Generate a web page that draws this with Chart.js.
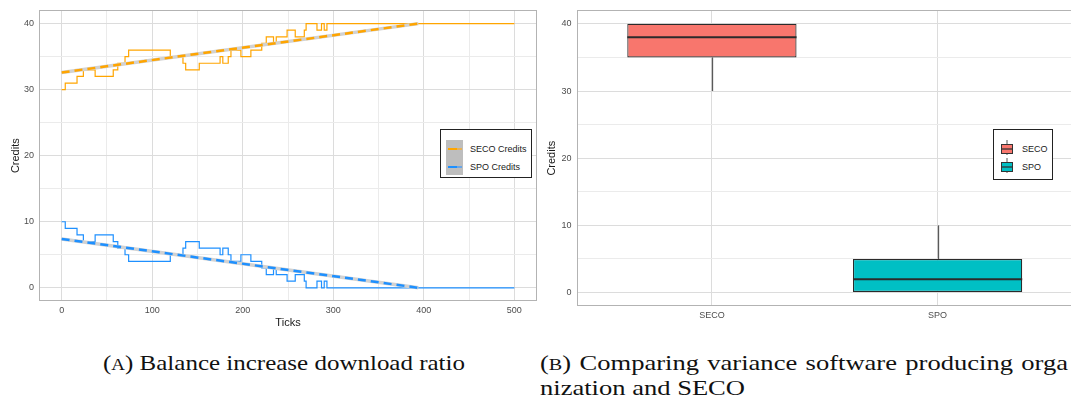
<!DOCTYPE html>
<html>
<head>
<meta charset="utf-8">
<script src="https://cdn.jsdelivr.net/npm/chart.js@4.4.1/dist/chart.umd.min.js"></script>
<style>
  html, body { margin: 0; padding: 0; background: #fff; overflow: hidden; width: 1071px; height: 403px; }
  #left { position: absolute; left: 0; top: 0; }
  #right { position: absolute; left: 540px; top: 0; }
  .legend { position: absolute; border: 1px solid #222; background: #fff; box-sizing: border-box;
            font-family: "Liberation Sans", Arial, sans-serif; font-size: 9px; color: #1a1a1a; }
  .legend span { position: absolute; line-height: 10px; white-space: nowrap; }
  .caption { position: absolute; font-family: "Liberation Serif", "Times New Roman", serif; font-size: 22px;
             line-height: 25px; color: #111; white-space: nowrap; transform-origin: 0 0; }
  .sc { font-size: 76%; }
</style>
</head>
<body>
<canvas id="left" width="540" height="330"></canvas>
<canvas id="right" width="540" height="330"></canvas>

<div class="legend" style="left:440px;top:129px;width:92px;height:49px;">
  <div style="position:absolute;left:5px;top:10px;width:17px;height:35px;background:#bebebe;"></div>
  <div style="position:absolute;left:7px;top:18px;width:9px;height:2px;background:#FFA500;"></div>
  <div style="position:absolute;left:16px;top:18px;width:5px;height:2px;background:#e6b25a;"></div>
  <div style="position:absolute;left:7px;top:36px;width:9px;height:2px;background:#1E90FF;"></div>
  <div style="position:absolute;left:16px;top:36px;width:5px;height:2px;background:#6aa6e6;"></div>
  <span style="left:29px;top:14px;">SECO Credits</span>
  <span style="left:29px;top:32px;">SPO Credits</span>
</div>

<div class="legend" style="left:993px;top:129px;width:60px;height:51px;">
  <svg style="position:absolute;left:6px;top:9px;" width="14" height="36">
    <line x1="7" y1="1" x2="7" y2="16" stroke="#555" stroke-width="1"/>
    <rect x="1.5" y="5.5" width="11" height="9" fill="#F8766D" stroke="#333" stroke-width="1"/>
    <line x1="1.5" y1="10" x2="12.5" y2="10" stroke="#333" stroke-width="1.3"/>
    <line x1="7" y1="19" x2="7" y2="34" stroke="#555" stroke-width="1"/>
    <rect x="1.5" y="23.5" width="11" height="9" fill="#00BFC4" stroke="#333" stroke-width="1"/>
    <line x1="1.5" y1="28" x2="12.5" y2="28" stroke="#333" stroke-width="1.3"/>
  </svg>
  <span style="left:28px;top:14px;">SECO</span>
  <span style="left:28px;top:32px;">SPO</span>
</div>

<div class="caption" id="capA" style="left:103px;top:350px;">(<span class="sc">A</span>) Balance increase download ratio</div>
<div class="caption" id="capB1" style="left:540px;top:350px;">(<span class="sc">B</span>) Comparing variance software producing orga</div>
<div class="caption" id="capB2" style="left:540px;top:375px;">nization and SECO</div>

<script>
// simulation ticks at which the credit balance changes
const stepTicks   = [0, 4, 17, 24, 37, 57, 62, 70, 74, 120, 134, 137, 152, 175, 178, 184, 187, 198, 209, 221, 226, 234, 237, 249, 258, 268, 270, 282, 287, 290, 293, 500];
const secoCredits = [30, 31, 32, 33, 32, 33, 34, 35, 36, 35, 34, 33, 34, 35, 34, 35, 36, 35, 36, 37, 38, 37, 38, 39, 38, 39, 40, 39, 40, 39, 40, 40];
const spoCredits  = [10, 9, 8, 7, 8, 7, 6, 5, 4, 5, 6, 7, 6, 5, 6, 5, 4, 5, 4, 3, 2, 3, 2, 1, 2, 1, 0, 1, 0, 1, 0, 0];

// linear fits
const fitTicks = [0, 394];
const secoFit  = [32.6, 40];
const spoFit   = [7.4, 0];

// boxplot summary
const groups    = ['SECO', 'SPO'];
const boxMin    = [30, 0];
const boxQ1     = [35, 0];
const boxMedian = [38, 2];
const boxQ3     = [40, 5];
const boxMax    = [40, 10];

// axis ticks
const xMajor = [0, 100, 200, 300, 400, 500];
const xMinor = [50, 150, 250, 350, 450];
const yMajor = [0, 10, 20, 30, 40];
const yMinor = [5, 15, 25, 35];

const SECO_LINE = '#FFA500';
const SPO_LINE = '#1E90FF';
const SECO_FILL = '#F8766D';
const SPO_FILL = '#00BFC4';

Chart.defaults.font.family = '"Liberation Sans", Arial, sans-serif';
Chart.defaults.animation = false;

const toPoints = (xs, ys) => xs.map((x, i) => ({ x: x, y: ys[i] }));
const tickList = (a, b) => a.concat(b).sort((p, q) => p - q).map(v => ({ value: v }));
const gridColor = major => ctx => major.includes(ctx.tick.value) ? '#dcdcdc' : '#ebebeb';

const panelBorder = {
  id: 'panelBorder',
  afterDraw(chart) {
    const { ctx, chartArea: a } = chart;
    ctx.save();
    ctx.strokeStyle = '#b3b3b3';
    ctx.lineWidth = 1;
    ctx.strokeRect(Math.round(a.left) + 0.5, Math.round(a.top) + 0.5,
                   Math.round(a.right - a.left) - 1, Math.round(a.bottom - a.top) - 1);
    ctx.restore();
  }
};

const yScale = (width, titlePad) => ({
  type: 'linear',
  min: -2, max: 42,
  afterBuildTicks: s => { s.ticks = tickList(yMajor, yMinor); },
  afterFit: s => { s.width = width; },
  border: { display: false },
  grid: { color: gridColor(yMajor), drawTicks: false, lineWidth: 1 },
  ticks: { autoSkip: false, padding: 5, color: '#4d4d4d', font: { size: 9 },
           callback: v => yMajor.includes(v) ? String(v) : '' },
  title: { display: true, text: 'Credits', color: '#1a1a1a', font: { size: 11 },
           padding: { top: titlePad, bottom: 0 } }
});

new Chart(document.getElementById('left'), {
  type: 'line',
  data: {
    datasets: [
      { label: 'SECO Credits', data: toPoints(stepTicks, secoCredits), stepped: true,
        borderColor: SECO_LINE, borderWidth: 1.2, pointRadius: 0, order: 5 },
      { label: 'SPO Credits', data: toPoints(stepTicks, spoCredits), stepped: true,
        borderColor: SPO_LINE, borderWidth: 1.2, pointRadius: 0, order: 5 },
      { data: toPoints(fitTicks, secoFit), borderColor: '#d2d2d2', borderWidth: 3.5, pointRadius: 0, order: 3 },
      { data: toPoints(fitTicks, spoFit), borderColor: '#d2d2d2', borderWidth: 3.5, pointRadius: 0, order: 3 },
      { data: toPoints(fitTicks, secoFit), borderColor: SECO_LINE, borderWidth: 2.5, borderDash: [8, 5],
        pointRadius: 0, order: 1 },
      { data: toPoints(fitTicks, spoFit), borderColor: SPO_LINE, borderWidth: 2.5, borderDash: [8, 5],
        pointRadius: 0, order: 1 }
    ]
  },
  options: {
    responsive: false,
    devicePixelRatio: 1,
    layout: { padding: { top: 8, right: 3, left: 0, bottom: 0 } },
    plugins: { legend: { display: false }, tooltip: { enabled: false } },
    scales: {
      x: {
        type: 'linear',
        min: -25, max: 525,
        afterBuildTicks: s => { s.ticks = tickList(xMajor, xMinor); },
        afterFit: s => { s.height = 29; },
        border: { display: false },
        grid: { color: gridColor(xMajor), drawTicks: false, lineWidth: 1 },
        ticks: { autoSkip: false, maxRotation: 0, padding: 4, color: '#4d4d4d', font: { size: 9 },
                 callback: v => xMajor.includes(v) ? String(v) : '' },
        title: { display: true, text: 'Ticks', color: '#1a1a1a', font: { size: 11 },
                 padding: { top: 0, bottom: 0 } }
      },
      y: yScale(39, 9)
    }
  },
  plugins: [panelBorder]
});

const boxParts = {
  id: 'boxParts',
  beforeDatasetsDraw(chart) {
    const { ctx, scales: { x, y } } = chart;
    ctx.save();
    ctx.strokeStyle = '#5a5a5a';
    ctx.lineWidth = 1.3;
    groups.forEach((g, i) => {
      const px = Math.round(x.getPixelForValue(i + 1)) + 0.5;
      ctx.beginPath();
      ctx.moveTo(px, y.getPixelForValue(boxQ3[i]));
      ctx.lineTo(px, y.getPixelForValue(boxMax[i]));
      ctx.moveTo(px, y.getPixelForValue(boxQ1[i]));
      ctx.lineTo(px, y.getPixelForValue(boxMin[i]));
      ctx.stroke();
    });
    ctx.restore();
  },
  afterDatasetsDraw(chart) {
    const { ctx, scales: { y } } = chart;
    const bars = chart.getDatasetMeta(0).data;
    ctx.save();
    ctx.strokeStyle = '#2b2b2b';
    ctx.lineWidth = 2;
    bars.forEach((bar, i) => {
      const p = bar.getProps(['x', 'width'], true);
      const py = y.getPixelForValue(boxMedian[i]);
      ctx.beginPath();
      ctx.moveTo(p.x - p.width / 2, py);
      ctx.lineTo(p.x + p.width / 2, py);
      ctx.stroke();
    });
    ctx.restore();
  }
};

new Chart(document.getElementById('right'), {
  type: 'bar',
  data: {
    datasets: [{
      data: groups.map((g, i) => ({ x: i + 1, y: [boxQ1[i], boxQ3[i]] })),
      backgroundColor: [SECO_FILL, SPO_FILL],
      borderColor: '#2b2b2b',
      borderWidth: 1.2,
      borderSkipped: false,
      barPercentage: 0.75,
      categoryPercentage: 1
    }]
  },
  options: {
    responsive: false,
    devicePixelRatio: 1,
    layout: { padding: { top: 8.5, right: 7, left: 0, bottom: 0 } },
    plugins: { legend: { display: false }, tooltip: { enabled: false } },
    scales: {
      x: {
        type: 'linear',
        min: 0.4, max: 2.6,
        offset: false,
        afterBuildTicks: s => { s.ticks = groups.map((g, i) => ({ value: i + 1 })); },
        afterFit: s => { s.height = 24; },
        border: { display: false },
        grid: { color: '#dcdcdc', drawTicks: false, offset: false, lineWidth: 1 },
        ticks: { autoSkip: false, maxRotation: 0, padding: 4, color: '#4d4d4d', font: { size: 9 },
                 callback: v => groups[v - 1] || '' }
      },
      y: yScale(36.5, 5)
    }
  },
  plugins: [boxParts, panelBorder]
});

// squeeze caption lines to their reference widths; the first B line is justified
const scaleTo = (el, w) => {
  const k = w / el.getBoundingClientRect().width;
  el.style.transform = 'scaleX(' + k + ')';
  return k;
};
const capB1 = document.getElementById('capB1');
scaleTo(document.getElementById('capA'), 362);
const kb = scaleTo(document.getElementById('capB2'), 205);
capB1.style.transform = 'scaleX(' + kb + ')';
const extra = (1068 - 540) - capB1.getBoundingClientRect().width;
capB1.style.wordSpacing = (extra / 5 / kb) + 'px';
</script>
</body>
</html>
